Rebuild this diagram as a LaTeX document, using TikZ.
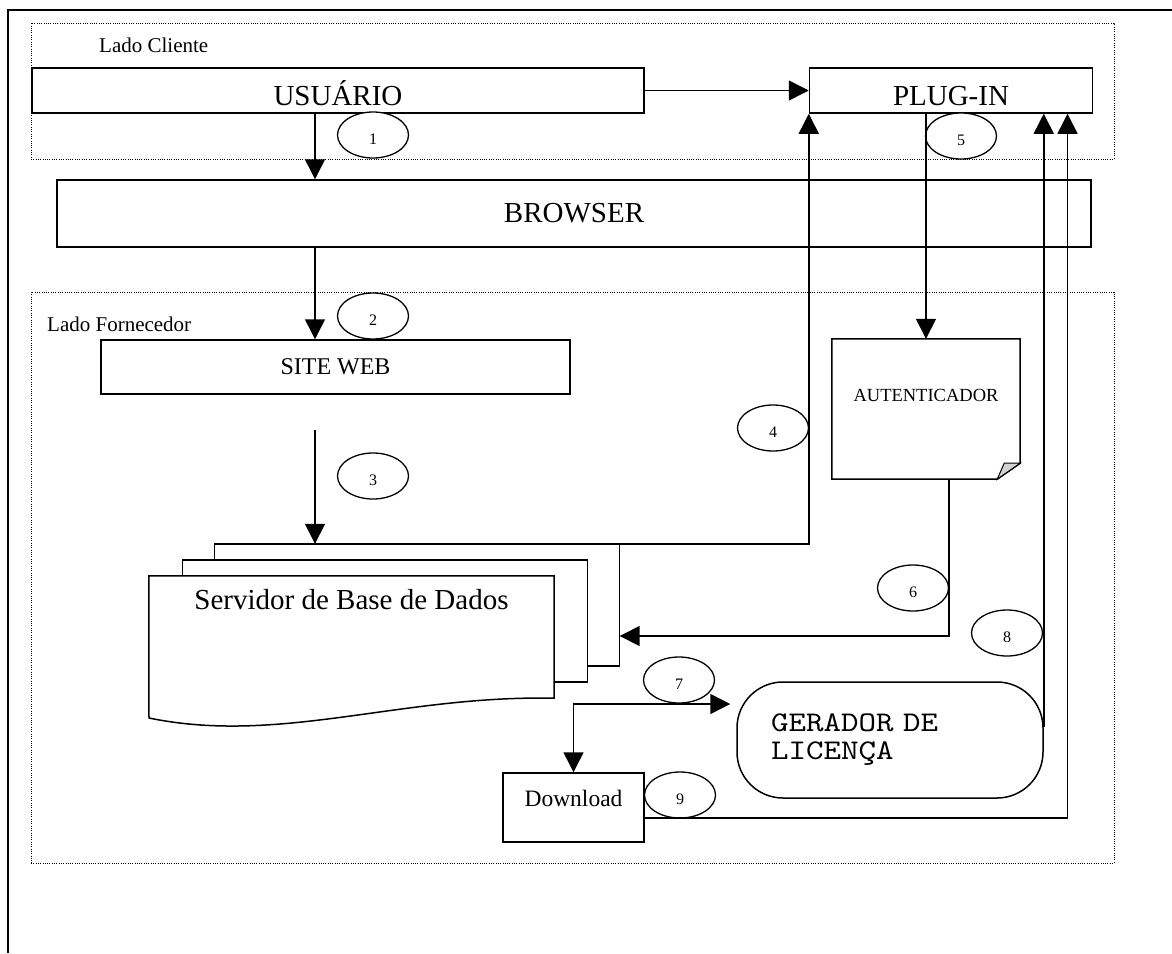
\documentclass[tikz,border=0pt]{standalone}
\usepackage{fontspec}
\setmainfont{Liberation Serif}
\newfontfamily\genmono{lmmono10-regular.otf}[FakeStretch=1.17]
\usepackage{tikz}
\usetikzlibrary{
  shapes.geometric, arrows.meta, positioning
}
\newcommand{\txtbig}{\fontsize{29}{34}\selectfont}
\newcommand{\txtweb}{\fontsize{24}{28}\selectfont}
\newcommand{\txtdl}{\fontsize{23.5}{28}\selectfont}
\newcommand{\txtlado}{\fontsize{21}{25}\selectfont}
\newcommand{\txtauth}{\fontsize{18.5}{22}\selectfont}
\newcommand{\txtnum}{\fontsize{16}{19}\selectfont}
\newcommand{\txtmono}{\genmono\fontsize{28.5}{28}\selectfont}

\begin{document}
\begin{tikzpicture}[
  x=1pt, y=-1pt,
  box/.style={rectangle, draw, line width=1.5pt, fill=white,
    inner sep=0pt, align=center},
  region/.style={rectangle, draw, inner sep=0pt,
    line width=1pt, dash pattern=on 1pt off 1.3pt},
  sheet/.style={rectangle, inner sep=0pt,
    minimum width=405pt, minimum height=122pt},
  sheetline/.style={line width=1.5pt},
  num/.style={ellipse, draw, fill=white, line width=1.3pt,
    minimum width=71pt, minimum height=46pt, inner sep=0pt,
    text height=18pt, text depth=0pt, font=\txtnum},
  arr/.style={-{Triangle[length=20pt,width=20pt]}, line width=1.5pt},
  darr/.style={{Triangle[length=20pt,width=20pt]}-{Triangle[length=20pt,width=20pt]},
    line width=1.5pt},
  lado/.style={font=\txtlado, anchor=base west, inner sep=0pt}
]
  \useasboundingbox (0,0) rectangle (1172,953);
  \draw[line width=1.5pt] (8,953) -- (8,10) -- (1172,10);

  % lado cliente / lado fornecedor
  \node[region, minimum width=1083pt, minimum height=136pt] (cliente) at (572.5,91) {};
  \node[region, minimum width=1083pt, minimum height=571pt] (fornecedor) at (572.5,577.5) {};
  \node[lado] (ladocliente) at (99,52) {Lado Cliente};
  \node[lado] (ladofornecedor) at (47,331) {Lado Fornecedor};

  \node[box, minimum width=612pt, minimum height=45pt,
    text height=29pt, text depth=0pt, font=\txtbig] (usuario) at (338,90.5) {USUÁRIO};
  \node[box, minimum width=283pt, minimum height=45pt,
    text height=29pt, text depth=0pt, font=\txtbig, right=164pt of usuario] (plugin) {PLUG-IN};
  \node[box, minimum width=1034pt, minimum height=67pt, font=\txtbig] (browser) at (574,213.5) {BROWSER};
  \node[box, minimum width=469pt, minimum height=54pt, font=\txtweb] (siteweb) at (335.5,367) {SITE WEB};

  % autenticador (folha com canto dobrado)
  \node[rectangle, inner sep=0pt, minimum width=188pt, minimum height=140pt,
    text height=12pt, text depth=28pt, font=\txtauth] (auth) at (926,409) {AUTENTICADOR};
  \draw[sheetline] (auth.north west) -- (auth.north east) -- ([yshift=16pt]auth.south east)
    -- ([xshift=-23pt]auth.south east) -- (auth.south west) -- cycle;
  \filldraw[fill=gray!35, line width=1pt] ([xshift=-23pt]auth.south east)
    -- ([xshift=-16pt,yshift=16pt]auth.south east) -- ([yshift=16pt]auth.south east) -- cycle;

  % servidor de base de dados (varios documentos)
  \node[sheet] (dbback) at (417,605) {};
  \node[sheet] (dbmid) at (385,621) {};
  \node[sheet, text height=20pt, text depth=76pt, font=\txtbig] (dbfront) at (351.5,637)
    {Servidor de Base de Dados};
  \draw[sheetline] (dbback.west |- dbmid.north) -- (dbback.north west) -- (dbback.north east)
    -- (dbback.south east) -- (dbmid.east |- dbback.south);
  \draw[sheetline] (dbmid.west |- dbfront.north) -- (dbmid.north west) -- (dbmid.north east)
    -- (dbmid.south east) -- (dbfront.east |- dbmid.south);
  \draw[sheetline] (dbfront.south east) .. controls (400,695) and (280,745) .. (149,718)
    -- (dbfront.north west) -- (dbfront.north east) -- cycle;

  \node[box, rounded corners=46pt, minimum width=306pt, minimum height=116pt,
    text width=238pt, align=left, font=\txtmono] (gerador) at (890,740) {GERADOR DE\\LICENÇA};
  \node[box, minimum width=141pt, minimum height=69pt,
    text height=16pt, text depth=19pt, font=\txtdl] (download) at (573.5,807.5) {Download};

  % numeros
  \node[num] (n1) at (373,135) {1};
  \node[num] (n2) at (373,316) {2};
  \node[num] (n3) at (373,476) {3};
  \node[num] (n4) at (773,428) {4};
  \node[num] (n5) at (961,136) {5};
  \node[num] (n6) at (913,588) {6};
  \node[num] (n7) at (679,680) {7};
  \node[num] (n8) at (1007,633) {8};
  \node[num] (n9) at (680,795) {9};

  \coordinate (colA) at (315,0);
  \coordinate (s3) at (315,430);

  \draw[arr] (usuario) -- (plugin);
  \draw[arr] (usuario.south -| colA) -- (browser.north -| colA);
  \draw[arr] (browser.south -| colA) -- (siteweb.north -| colA);
  \draw[arr] (s3) -- (s3 |- dbback.north);
  \draw[arr] (dbback.north east) -| (plugin.south west);
  \draw[arr] (plugin.south -| auth.north) -- (auth.north);
  \draw[arr] ([xshift=23pt]auth.south) |- ([yshift=-31pt]dbback.east);
  \draw[darr, shorten >=6pt] (download.north) |- ([yshift=36pt]gerador.west);
  \draw[arr] ([yshift=13pt]gerador.east) -- (plugin.south -| gerador.east);
  \draw[arr] ([yshift=-10.5pt]download.east) -| ([xshift=116.5pt]plugin.south);
\end{tikzpicture}
\end{document}
